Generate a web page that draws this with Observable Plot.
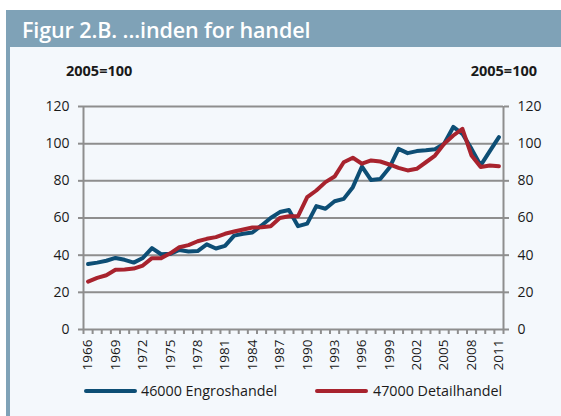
<!DOCTYPE html>
<html><head><meta charset="utf-8">
<script src="https://cdn.jsdelivr.net/npm/d3@7"></script>
<script src="https://cdn.jsdelivr.net/npm/@observablehq/plot@0.6"></script>
<style>
html,body{margin:0;padding:0;background:#fff;}
body{width:561px;height:416px;overflow:hidden;position:relative;font-family:"Open Sans",sans-serif;color:#1a1a1a;}
#card{position:absolute;left:6px;top:10px;width:560px;height:420px;background:#f4f8fc;border-left:4px solid #7fa2b7;box-sizing:border-box;}
#hdr{position:absolute;left:6px;top:10px;width:560px;height:37px;background:#7fa2b7;}
#title{position:absolute;left:22px;top:18.5px;color:#fff;font:600 21.5px/1 "Open Sans",sans-serif;white-space:nowrap;letter-spacing:-0.1px;}
.unit{position:absolute;top:63.5px;font:bold 14.5px/1 "Open Sans",sans-serif;white-space:nowrap;}
#chart{position:absolute;left:0;top:0;}
.leg{position:absolute;top:383.5px;font:14.3px/1 "Open Sans",sans-serif;white-space:nowrap;}
.sw{position:absolute;height:4px;border-radius:2px;top:389px;}
</style></head>
<body>
<div id="card"></div>
<div id="hdr"></div>
<div id="title">Figur 2.B. ...inden for handel</div>
<div class="unit" style="left:66px">2005=100</div>
<div class="unit" style="right:24px">2005=100</div>
<div id="chart"></div>
<div class="sw" style="left:84px;width:53px;background:#0d4e75"></div>
<div class="leg" style="left:141px">46000 Engroshandel</div>
<div class="sw" style="left:315px;width:53px;background:#a8232e"></div>
<div class="leg" style="left:373px">47000 Detailhandel</div>
<script>
const years = [1966,1967,1968,1969,1970,1971,1972,1973,1974,1975,1976,1977,1978,1979,1980,1981,1982,1983,1984,1985,1986,1987,1988,1989,1990,1991,1992,1993,1994,1995,1996,1997,1998,1999,2000,2001,2002,2003,2004,2005,2006,2007,2008,2009,2010,2011];
const engros = [35.2,36,37,38.5,37.5,36,38.5,43.8,40.5,40.7,42.8,42,42.2,45.8,43.6,45,50.5,51.5,52.2,56,60,63.2,64.3,55.6,57,66.4,65,69,70.3,76.6,87.7,80.4,81,87,97.2,94.9,96,96.4,97,100,109,105.3,97.2,88.3,96,103.5];
const detail = [25.8,27.8,29.2,32.1,32.3,32.8,34.4,38.4,38.4,41,44.3,45.4,47.5,48.8,49.7,51.5,52.7,53.8,54.9,55,55.6,60,60.9,61,71.2,74.8,79.3,82.3,90,92.4,89.2,91,90.4,88.8,87,85.6,86.5,90,93.6,100,104.4,108,93.6,87.4,88.3,87.9];
const yTicks = [0,20,40,60,80,100,120];
const xLabels = [1966,1969,1972,1975,1978,1981,1984,1987,1990,1993,1996,1999,2002,2005,2008,2011];

const rows = years.map((year,i)=>({year, engros:engros[i], detail:detail[i]}));
const bounds = years.map(y=>y-0.5).concat([years[years.length-1]+0.5]);
const gray = "#8e8e8e";

const chart = Plot.plot({
  width:561, height:416,
  marginLeft:83, marginRight:58, marginTop:106, marginBottom:87,
  style:{background:"transparent", fontFamily:"Open Sans", fontSize:"14px", color:"#1a1a1a", overflow:"visible"},
  x:{type:"linear", domain:[bounds[0], bounds[bounds.length-1]], label:null},
  y:{domain:[0,120], label:null},
  marks:[
    Plot.ruleY(yTicks, {stroke:gray, strokeWidth:2}),
    Plot.ruleX([bounds[0], bounds[bounds.length-1]], {stroke:gray, strokeWidth:2}),
    Plot.axisY(yTicks, {anchor:"left", tickSize:5, tickPadding:9, stroke:gray, strokeWidth:2, fontSize:14, label:null}),
    Plot.axisY(yTicks, {anchor:"right", tickSize:5, tickPadding:9, stroke:gray, strokeWidth:2, fontSize:14, label:null}),
    Plot.axisX(bounds, {anchor:"bottom", tickSize:5, stroke:gray, strokeWidth:2, tickFormat:()=>"", label:null}),
    Plot.axisX(xLabels, {anchor:"bottom", tickSize:0, tickPadding:10, tickRotate:-90, fontSize:13.5, tickFormat:d=>String(d), label:null}),
    Plot.line(rows, {x:"year", y:"engros", stroke:"#0d4e75", strokeWidth:4, strokeLinejoin:"round"}),
    Plot.line(rows, {x:"year", y:"detail", stroke:"#a8232e", strokeWidth:4, strokeLinejoin:"round"})
  ]
});
document.getElementById("chart").appendChild(chart);
</script>
</body></html>
